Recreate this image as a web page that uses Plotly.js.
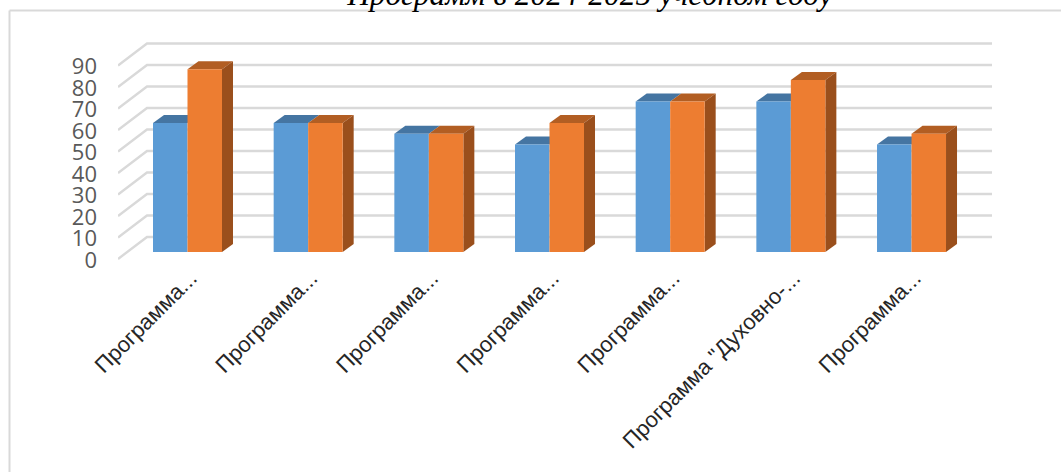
<!DOCTYPE html>
<html><head><meta charset="utf-8">
<script src="https://cdn.plot.ly/plotly-3.0.0.min.js"></script>
<style>html,body{margin:0;padding:0;background:#fff;overflow:hidden}#c{width:1061px;height:472px}</style>
</head><body><div id="c"></div>
<script>
const categories = ['Программа...','Программа...','Программа...','Программа...','Программа...','Программа "Духовно-...','Программа...'];
const series2024 = [60,60,55,50,70,70,50];
const series2025 = [85,60,55,60,70,80,55];
const yTicks = [0,10,20,30,40,50,60,70,80,90];
const titleText = 'Программ в 2024-2025 учебном году';

const W=1061,H=472,L=118,R=992,T=30,B=264;
const pitch=120.67, pxPerUnit=2.15;
const xU=px=>(px-187.5)/pitch;           // pixel → category units
const yU=py=>(252-py)/pxPerUnit;         // pixel → value units
const xRange=[xU(L),xU(R)], yRange=[yU(B),yU(T)];
const barW=34.5/pitch;
const ddx=11/pitch, ddy=8/pxPerUnit;     // bar depth
const wallDx=29/pitch, frontY=yU(259), backY=yU(237), labelY=yU(260.2);
const idx=categories.map((_,i)=>i);

const traces=[];
const gx=[],gy=[];
yTicks.forEach(v=>{
  gx.push(xU(L),xU(L)+wallDx,xRange[1],null);
  gy.push(v+frontY,v+backY,v+backY,null);
});
traces.push({type:'scatter',mode:'lines',x:gx,y:gy,line:{color:'#d9d9d9',width:2.4},hoverinfo:'skip',showlegend:false,xaxis:'x',yaxis:'y'});

function face(xs,ys,color){
  traces.push({type:'scatter',mode:'lines',x:xs,y:ys,fill:'toself',fillcolor:color,line:{width:0,color:color},hoverinfo:'skip',showlegend:false,xaxis:'x',yaxis:'y2'});
}
idx.forEach(i=>{
  const a=series2024[i], b=series2025[i];
  face([i-barW,i,i+ddx,i-barW+ddx,i-barW],[a,a,a+ddy,a+ddy,a],'#4575a2');
  face([i,i+barW,i+barW+ddx,i+ddx,i],[b,b,b+ddy,b+ddy,b],'#b25e23');
  face([i+barW,i+barW+ddx,i+barW+ddx,i+barW,i+barW],[0,ddy,b+ddy,b,0],'#9a4f1c');
});
traces.push({type:'bar',name:'2024',x:idx,y:series2024,offset:-barW,width:barW,marker:{color:'#5b9bd5',line:{width:0}},xaxis:'x',yaxis:'y3'});
traces.push({type:'bar',name:'2025',x:idx,y:series2025,offset:0,width:barW,marker:{color:'#ed7d31',line:{width:0}},xaxis:'x',yaxis:'y3'});

const hidden={range:yRange,overlaying:'y',visible:false,fixedrange:true,anchor:'x'};
const layout={
  width:W,height:H,paper_bgcolor:'#fff',plot_bgcolor:'rgba(0,0,0,0)',showlegend:false,barmode:'overlay',
  margin:{l:L,r:W-R,t:T,b:H-B,pad:0},
  title:{text:titleText,x:590/W,xanchor:'center',y:1,yanchor:'bottom',yref:'container',pad:{b:-5},font:{family:'Liberation Serif',size:31.5,color:'#000',style:'italic'}},
  xaxis:{type:'linear',range:xRange,tickmode:'array',tickvals:idx,ticktext:categories,tickangle:-45,showgrid:false,zeroline:false,showline:false,ticks:'',
    tickfont:{family:'Liberation Sans',size:22,color:'#262626'},ticklabelshift:3,ticklabelstandoff:-4,fixedrange:true,automargin:false},
  yaxis:{range:yRange,tickmode:'array',tickvals:yTicks.map(v=>v+labelY),ticktext:yTicks.map(String),showgrid:false,zeroline:false,showline:false,ticks:'',
    tickfont:{family:'Open Sans',size:22,color:'#595959'},ticklabelstandoff:20,fixedrange:true,automargin:false},
  yaxis2:hidden,yaxis3:hidden,
  shapes:[
    {type:'line',xref:'paper',yref:'paper',x0:(9.5-L)/(R-L),x1:(W-L)/(R-L),y0:(B-10.5)/(B-T),y1:(B-10.5)/(B-T),line:{color:'#d9d9d9',width:2}},
    {type:'line',xref:'paper',yref:'paper',x0:(9.5-L)/(R-L),x1:(9.5-L)/(R-L),y0:(B-10.5)/(B-T),y1:(B-H)/(B-T),line:{color:'#d9d9d9',width:2}}
  ]
};
Plotly.newPlot('c',traces,layout,{staticPlot:true,displayModeBar:false});
</script></body></html>
